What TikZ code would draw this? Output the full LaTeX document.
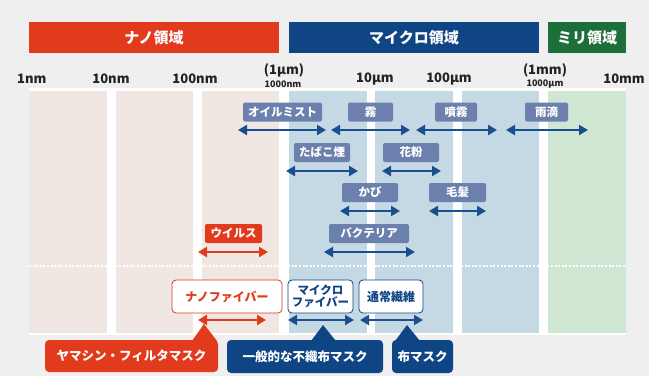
\documentclass[tikz,border=0pt]{standalone}
\usepackage{fontspec}
\setmainfont{Noto Sans CJK JP}
\usetikzlibrary{arrows.meta}
\definecolor{nanored}{HTML}{E23A1C}
\definecolor{microblue}{HTML}{0F4584}
\definecolor{milligreen}{HTML}{1D6E3B}
\definecolor{labelbox}{HTML}{6C80AE}
\definecolor{arrblue}{HTML}{1A4E8E}
\definecolor{colnano}{HTML}{F1E7E2}
\definecolor{colmicro}{HTML}{C5D9E5}
\definecolor{colmilli}{HTML}{CEE6D2}
\definecolor{bggray}{HTML}{EFEFEF}
\definecolor{scaletext}{HTML}{222222}
\tikzset{
  header/.style={fill=#1, text=white, font=\bfseries\fontsize{15}{16}\selectfont, inner sep=0pt},
  scalelbl/.style={text=scaletext, font=\bfseries\fontsize{13}{14}\selectfont, inner sep=0pt},
  scalesub/.style={text=scaletext, font=\bfseries\fontsize{9}{10}\selectfont, inner sep=0pt},
  itembox/.style={fill=labelbox, text=white, rounded corners=2pt, font=\bfseries\fontsize{11.5}{12}\selectfont, inner sep=0pt},
  virusbox/.style={fill=nanored, text=white, rounded corners=2pt, font=\bfseries\fontsize{11.5}{12}\selectfont, inner sep=0pt},
  barr/.style={draw=arrblue, line width=2.8pt, {Triangle[length=9pt,width=10pt]}-{Triangle[length=9pt,width=10pt]}},
  rarr/.style={draw=nanored, line width=2.8pt, {Triangle[length=9pt,width=10pt]}-{Triangle[length=9pt,width=10pt]}},
  fiberbox/.style={fill=white, draw=#1, line width=0.8pt, text=#1, rounded corners=4pt, font=\bfseries\fontsize{12}{13}\selectfont, inner sep=0pt, align=center},
  callout/.style={fill=#1, text=white, rounded corners=4pt, font=\bfseries\fontsize{12.5}{13}\selectfont, inner sep=0pt},
}
\begin{document}
\begin{tikzpicture}[x=1pt,y=-1pt]
\useasboundingbox (0,0) rectangle (649,376);
\fill[bggray] (0,0) rectangle (649,376);
\fill[white] (29,88) rectangle (626,335);

% headers
\node[header=nanored, minimum width=250pt, minimum height=31pt] (hnano) at (154,37.5) {ナノ領域};
\node[header=microblue, minimum width=250pt, minimum height=31pt] (hmicro) at (414,37.5) {マイクロ領域};
\node[header=milligreen, minimum width=78pt, minimum height=31pt] (hmilli) at (587,37.5) {ミリ領域};

% columns
\fill[colnano] (29,91) rectangle (107,333);
\fill[colnano] (116,91) rectangle (193,333);
\fill[colnano] (202,91) rectangle (279,333);
\fill[colmicro] (289,91) rectangle (367,333);
\fill[colmicro] (375,91) rectangle (453,333);
\fill[colmicro] (462,91) rectangle (539,333);
\fill[colmilli] (548,91) rectangle (626,333);

% dotted line
\coordinate (dl) at (29,266);
\coordinate (dr) at (626,266);
\draw[white, line width=2.2pt, dash pattern=on 2pt off 1.6pt] (dl) -- (dr);

% scale labels
\node[scalelbl, anchor=west] (s1) at (17,79) {1nm};
\node[scalelbl] (s2) at (111,79) {10nm};
\node[scalelbl] (s3) at (195,79) {100nm};
\node[scalelbl] (s4) at (284,70) {(1µm)};
\node[scalelbl, scalesub] (s4b) at (283,84) {1000nm};
\node[scalelbl] (s5) at (375,79) {10µm};
\node[scalelbl] (s6) at (449,79) {100µm};
\node[scalelbl] (s7) at (545,70) {(1mm)};
\node[scalelbl, scalesub] (s7b) at (545,84) {1000µm};
\node[scalelbl, anchor=east] (s8) at (645,79) {10mm};

% row 1
\node[itembox, minimum width=79pt, minimum height=19pt] (oil) at (282.5,112) {オイルミスト};
\coordinate (oilL) at (238,130); \coordinate (oilR) at (326,130);
\draw[barr] (oilL) -- (oilR);
\node[itembox, minimum width=45pt, minimum height=19pt] (kiri) at (370.5,112) {霧};
\coordinate (kiriL) at (331,130); \coordinate (kiriR) at (410,130);
\draw[barr] (kiriL) -- (kiriR);
\node[itembox, minimum width=42pt, minimum height=19pt] (funmu) at (456,112) {噴霧};
\coordinate (funmuL) at (416,130); \coordinate (funmuR) at (497,130);
\draw[barr] (funmuL) -- (funmuR);
\node[itembox, minimum width=43pt, minimum height=19pt] (uteki) at (546.5,112) {雨滴};
\coordinate (utekiL) at (506,130); \coordinate (utekiR) at (588,130);
\draw[barr] (utekiL) -- (utekiR);

% row 2
\node[itembox, minimum width=56pt, minimum height=19pt] (tabako) at (322,152.5) {たばこ煙};
\coordinate (tabakoL) at (286,171); \coordinate (tabakoR) at (358,171);
\draw[barr] (tabakoL) -- (tabakoR);
\node[itembox, minimum width=56pt, minimum height=19pt] (kafun) at (411,152.5) {花粉};
\coordinate (kafunL) at (382,171); \coordinate (kafunR) at (441,171);
\draw[barr] (kafunL) -- (kafunR);

% row 3
\node[itembox, minimum width=56pt, minimum height=19pt] (kabi) at (370,192.5) {かび};
\coordinate (kabiL) at (340,211); \coordinate (kabiR) at (400,211);
\draw[barr] (kabiL) -- (kabiR);
\node[itembox, minimum width=57pt, minimum height=19pt] (mohatsu) at (457.5,192.5) {毛髪};
\coordinate (mohatsuL) at (429,211); \coordinate (mohatsuR) at (486,211);
\draw[barr] (mohatsuL) -- (mohatsuR);

% row 4
\node[virusbox, minimum width=57pt, minimum height=19pt] (virus) at (233.5,233.5) {ウイルス};
\coordinate (virusL) at (198,252); \coordinate (virusR) at (268,252);
\draw[rarr] (virusL) -- (virusR);
\node[itembox, minimum width=80pt, minimum height=19pt] (bact) at (369,233.5) {バクテリア};
\coordinate (bactL) at (324,252); \coordinate (bactR) at (415,252);
\draw[barr] (bactL) -- (bactR);

% fibers
\node[fiberbox=nanored, minimum width=110pt, minimum height=33pt] (nanof) at (227,296.5) {ナノファイバー};
\coordinate (nanofL) at (198,320); \coordinate (nanofR) at (266,320);
\draw[rarr] (nanofL) -- (nanofR);
\node[fiberbox=microblue, minimum width=65pt, minimum height=33pt, font=\bfseries\fontsize{11.5}{12}\selectfont] (microf) at (320.5,296.5) {マイクロ\\ファイバー};
\coordinate (microfL) at (288,320); \coordinate (microfR) at (354,320);
\draw[barr] (microfL) -- (microfR);
\node[fiberbox=microblue, minimum width=64pt, minimum height=33pt] (normf) at (391,296.5) {通常繊維};
\coordinate (normfL) at (360,320); \coordinate (normfR) at (423,320);
\draw[barr] (normfL) -- (normfR);

% callouts
\node[callout=nanored, minimum width=173pt, minimum height=32pt] (yamashin) at (131.5,356) {ヤマシン・フィルタマスク};
\coordinate (yt) at (204,324); \coordinate (ya) at (192,341); \coordinate (yb) at (217,341);
\fill[nanored] (yt) -- (ya) -- (yb) -- cycle;
\node[callout=microblue, minimum width=156pt, minimum height=33pt] (ippan) at (305,356.5) {一般的な不織布マスク};
\coordinate (it) at (323,325); \coordinate (ia) at (311,341); \coordinate (ib) at (336,341);
\fill[microblue] (it) -- (ia) -- (ib) -- cycle;
\node[callout=microblue, minimum width=61pt, minimum height=33pt] (nuno) at (422.5,356.5) {布マスク};
\coordinate (nt) at (407,325); \coordinate (na) at (395,341); \coordinate (nb) at (420,341);
\fill[microblue] (nt) -- (na) -- (nb) -- cycle;
\end{tikzpicture}
\end{document}
